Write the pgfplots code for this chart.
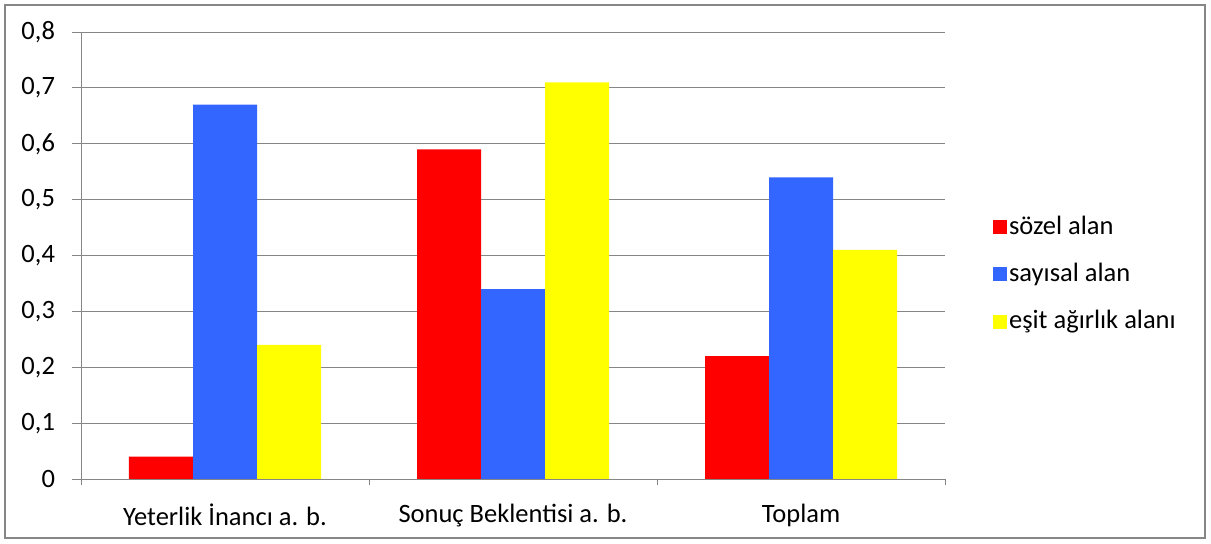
\documentclass[border=0pt]{standalone}
\usepackage{pgfplots}
\pgfplotsset{compat=1.18}
\usepackage{fontspec}
\setmainfont{Carlito}
\definecolor{gridgray}{HTML}{868686}
\definecolor{barred}{HTML}{FF0000}
\definecolor{barblue}{HTML}{3366FF}
\definecolor{baryellow}{HTML}{FFFF00}
\newcommand{\chartfont}{\fontsize{26.5bp}{30bp}\selectfont}
\begin{document}
\begin{tikzpicture}
\chartfont
\begin{axis}[
  at={(0,0)}, anchor=south west,
  scale only axis,
  width=864bp, height=447bp,
  ybar=0pt, bar width=64bp,
  xmin=-0.5, xmax=2.5,
  ymin=0, ymax=0.8,
  ytick={0,0.1,...,0.8},
  xtick={0,1,2},
  xticklabels={Yeterlik İnancı a. b., Sonuç Beklentisi a. b., Toplam},
  minor xtick={-0.5,0.5,1.5,2.5},
  major x tick style={draw=none},
  tick align=outside,
  major tick length=9bp,
  minor tick length=6bp,
  every tick/.style={gridgray, line width=1pt},
  axis x line*=bottom,
  axis y line*=left,
  axis line style={gridgray, line width=1pt, -},
  ymajorgrids,
  major grid style={gridgray, line width=1pt},
  /pgf/number format/fixed,
  /pgf/number format/precision=1,
  /pgf/number format/use comma,
  /pgf/number format/assume math mode=true,
  ticklabel style={font=\chartfont, text=black},
  xticklabel style={yshift=-7bp},
  yticklabel style={xshift=-8bp},
  legend style={at={(1.052,0.598)}, anchor=north west, draw=none, fill=none,
    font=\chartfont, row sep=21bp,
    /tikz/every even column/.append style={column sep=1bp}},
  legend cell align=left,
  legend image code/.code={\fill[#1] (0bp,-7bp) rectangle (14bp,7bp);},
]
\addplot[fill=barred, draw=none] coordinates {(0,0.04) (1,0.59) (2,0.22)};
\addplot[fill=barblue, draw=none] coordinates {(0,0.67) (1,0.34) (2,0.54)};
\addplot[fill=baryellow, draw=none] coordinates {(0,0.24) (1,0.71) (2,0.41)};
\legend{sözel alan, sayısal alan, eşit ağırlık alanı}
\end{axis}
\draw[gridgray, line width=1.2pt] (-76bp,-59bp) rectangle (1124bp,474bp);
\path (-81bp,-65bp) rectangle (1130bp,479bp);
\end{tikzpicture}
\end{document}
